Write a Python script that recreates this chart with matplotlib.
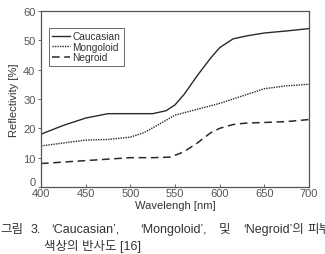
import matplotlib
matplotlib.use('Agg')
import matplotlib.pyplot as plt

# values
wl_cau = [400, 425, 450, 475, 500, 525, 540, 550, 560, 575, 590, 600, 615, 630, 650, 675, 700]
cau = [18, 21, 23.5, 25, 25, 25, 26, 28, 31.5, 38, 44, 47.5, 50.5, 51.5, 52.5, 53.2, 54]

wl_mon = [400, 425, 450, 475, 500, 515, 530, 550, 575, 600, 625, 650, 675, 700]
mon = [14, 15, 16, 16.2, 17, 18.5, 21, 24.5, 26.5, 28.5, 31, 33.5, 34.5, 35]

wl_neg = [400, 425, 450, 475, 500, 525, 545, 560, 575, 590, 600, 615, 630, 650, 675, 700]
neg = [8, 8.5, 9, 9.5, 10, 10, 10.2, 12, 15, 18.5, 20, 21.3, 21.8, 22, 22.3, 23]

xticks = [400, 450, 500, 550, 600, 650, 700]
yticks = [0, 10, 20, 30, 40, 50, 60]

W, H = 325, 255
fig = plt.figure(figsize=(W / 100, H / 100), dpi=100)
ax = fig.add_axes([41 / W, 1 - 188 / H, (309 - 41) / W, (188 - 12) / H])

lc = '#2a2a2a'
ax.plot(wl_cau, cau, color=lc, lw=1.0, ls='-', label='Caucasian')
ax.plot(wl_mon, mon, color=lc, lw=1.0, ls=(0, (1, 0.8)), label='Mongoloid')
ax.plot(wl_neg, neg, color=lc, lw=1.1, ls=(0, (5, 3)), label='Negroid')

ax.set_xlim(400, 700)
ax.set_ylim(0, 60)
ax.set_xticks(xticks)
ax.set_yticks(yticks)
tf = 'Liberation Sans'
ax.set_xticklabels([str(v) for v in xticks], fontsize=8, family=tf, color='#333')
ax.set_yticklabels([str(v) for v in yticks], fontsize=8, family=tf, color='#333')
ax.tick_params(axis='x', direction='in', length=2.5, width=0.6, pad=1, colors='#555')
ax.tick_params(axis='y', direction='out', length=2.5, width=0.6, pad=1.5, colors='#555')
ax.yaxis.get_majorticklabels()[0].set_verticalalignment('bottom')
for s in ax.spines.values():
    s.set_color('#555')
    s.set_linewidth(0.9)

ax.set_xlabel('Wavelengh [nm]', fontsize=8, family=tf, color='#333', labelpad=1)
ax.set_ylabel('Reflectivity [%]', fontsize=8, family=tf, color='#333', labelpad=3)

leg = ax.legend(loc='upper left', bbox_to_anchor=(0.01, 0.935),
                prop={'family': tf, 'size': 7.3}, handlelength=1.7, handletextpad=0.3,
                labelspacing=0.05, borderpad=0.35, frameon=True, fancybox=False)
leg.get_frame().set_edgecolor('#444')
leg.get_frame().set_linewidth(0.7)
for t in leg.get_texts():
    t.set_color('#333')

# caption, laid out word by word to mimic justified text
cf = ['Liberation Sans', 'Noto Sans CJK KR']
words = ['그림', '3.', '‘Caucasian’,', '‘Mongoloid’,', '및', '‘Negroid’의', '피부']
xs = [0, 31, 51, 140, 219, 243, 307]
for w, x in zip(words, xs):
    fig.text(x / W, 1 - 230 / H, w, fontsize=9, family=cf, color='#333', va='center')
fig.text(44 / W, 1 - 247 / H, '색상의 반사도 [16]', fontsize=9, family=cf, color='#333', va='center')

fig.savefig('out.png', dpi=100, facecolor='white')
